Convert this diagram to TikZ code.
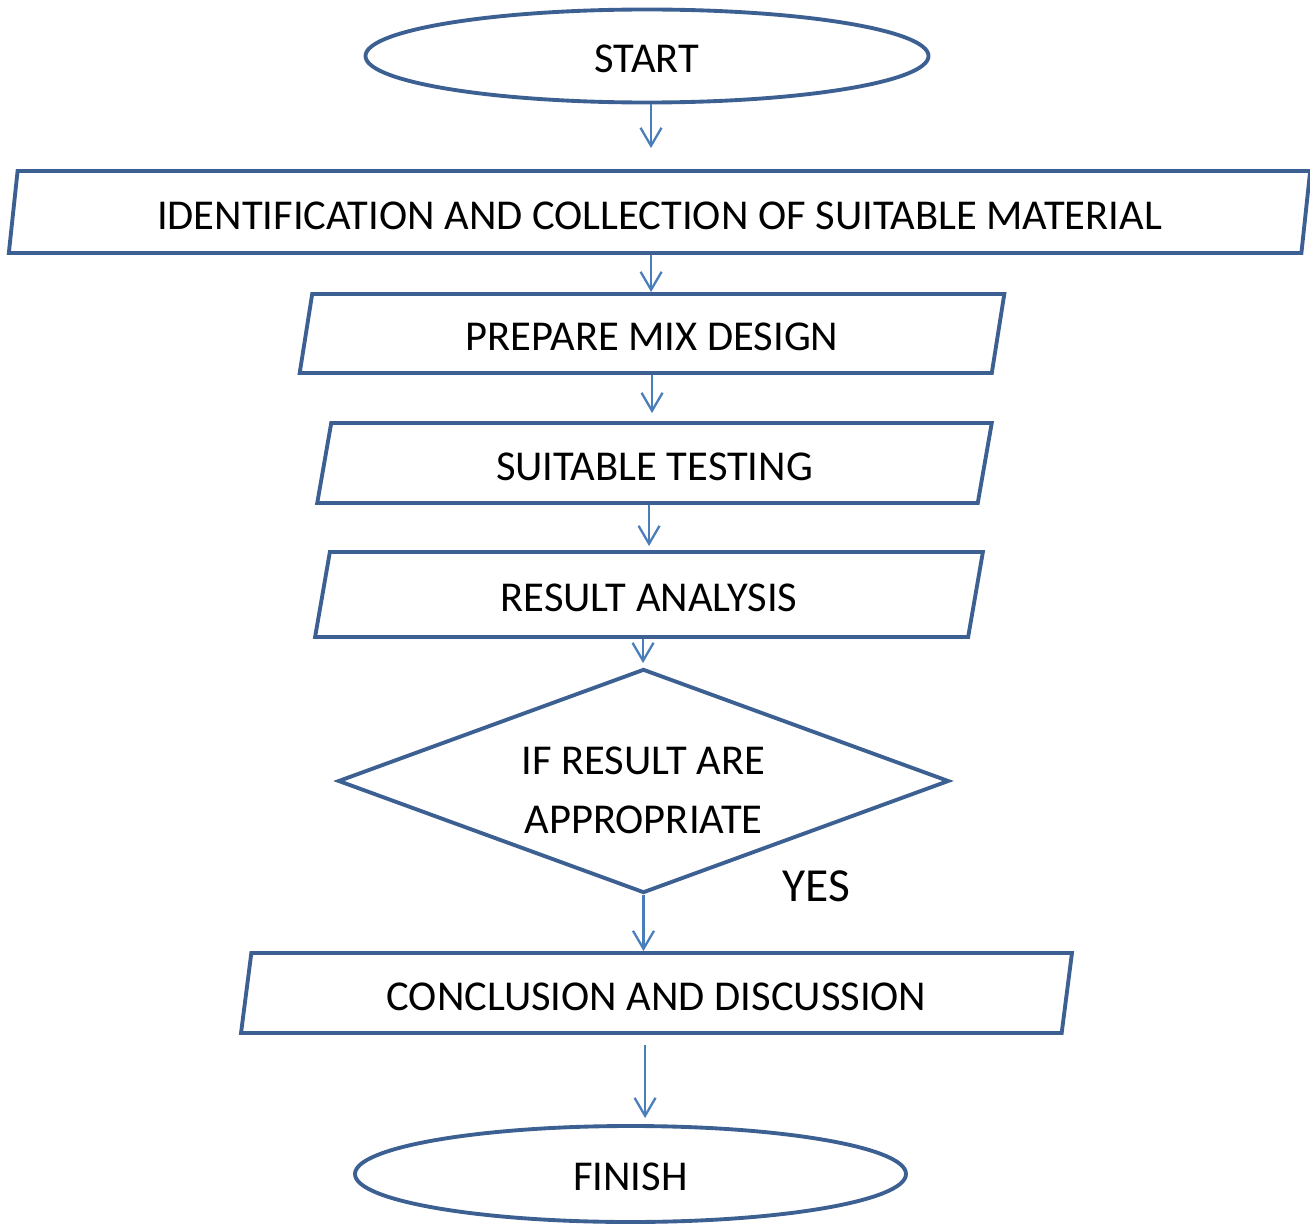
\documentclass[tikz,border=0pt]{standalone}
\usepackage{fontspec}
\setmainfont{Carlito}
\usetikzlibrary{shapes,arrows.meta,calc}
\definecolor{boxblue}{RGB}{61,96,146}
\definecolor{arrowblue}{RGB}{74,126,187}
\tikzstyle{terminal}=[ellipse,draw=boxblue,line width=2.2pt,inner sep=0pt,text height=0.66cm]
\tikzstyle{process}=[trapezium,trapezium left angle=79,trapezium right
angle=101,trapezium stretches=true,draw=boxblue,line width=2.2pt,inner sep=0pt,text height=0.7cm]
\tikzstyle{decision}=[diamond,draw=boxblue,line width=2.2pt,inner sep=0pt,align=center]
\tikzstyle{flow}=[->,draw=arrowblue,line width=1.3pt]

\begin{document}
\begin{tikzpicture}[>={Straight Barb[length=0.36cm,width=0.42cm]},
    font=\fontsize{24.2}{34}\selectfont]
    \useasboundingbox (0,0) rectangle (26.2,-24.48);

    \node[terminal,minimum width=11.26cm,minimum height=1.86cm] (start) at (12.94,-1.12) {START};
    \node[process,minimum width=26.04cm,minimum height=1.64cm] (ident) at (13.19,-4.24)
      {IDENTIFICATION AND COLLECTION OF SUITABLE MATERIAL};
    \node[process,minimum width=14.1cm,minimum height=1.58cm] (mix) at (13.04,-6.67) {PREPARE MIX DESIGN};
    \node[process,minimum width=13.5cm,minimum height=1.6cm] (test) at (13.09,-9.26) {SUITABLE TESTING};
    \node[process,minimum width=13.36cm,minimum height=1.7cm] (result) at (12.98,-11.89) {RESULT ANALYSIS};
    \node[decision,minimum width=12.22cm,minimum height=4.48cm,aspect=2.73] (check) at (12.87,-15.62)
      {\rule{0pt}{0.93cm}IF RESULT ARE\\APPROPRIATE};
    \node[font=\fontsize{27}{32}\selectfont] (yes) at (16.32,-17.72) {YES};
    \node[process,minimum width=16.7cm,minimum height=1.6cm] (concl) at (13.13,-19.86)
      {CONCLUSION AND DISCUSSION};
    \node[terminal,minimum width=11.02cm,minimum height=1.92cm] (finish) at (12.61,-23.48) {FINISH};

    \draw[flow,shorten >=0.42cm] ([xshift=0.08cm]start.south) -- ([xshift=0.08cm]start.south |- ident.north);
    \draw[flow] ([xshift=-0.17cm]ident.south) -- ([xshift=-0.17cm]ident.south |- mix.north);
    \draw[flow,shorten >=0.16cm] (mix.south) -- (mix.south |- test.north);
    \draw[flow,shorten >=0.08cm] ([xshift=-0.11cm]test.south) -- ([xshift=-0.11cm]test.south |- result.north);
    \draw[flow,shorten >=0.08cm] ([xshift=-0.12cm]result.south) -- ([xshift=-0.12cm]result.south |- check.north);
    \draw[flow] (check.south) -- (check.south |- concl.north);
    \draw[flow,shorten <=0.2cm,shorten >=0.12cm] ([xshift=-0.23cm]concl.south) -- ([xshift=-0.23cm]concl.south |- finish.north);
  \end{tikzpicture}
\end{document}
